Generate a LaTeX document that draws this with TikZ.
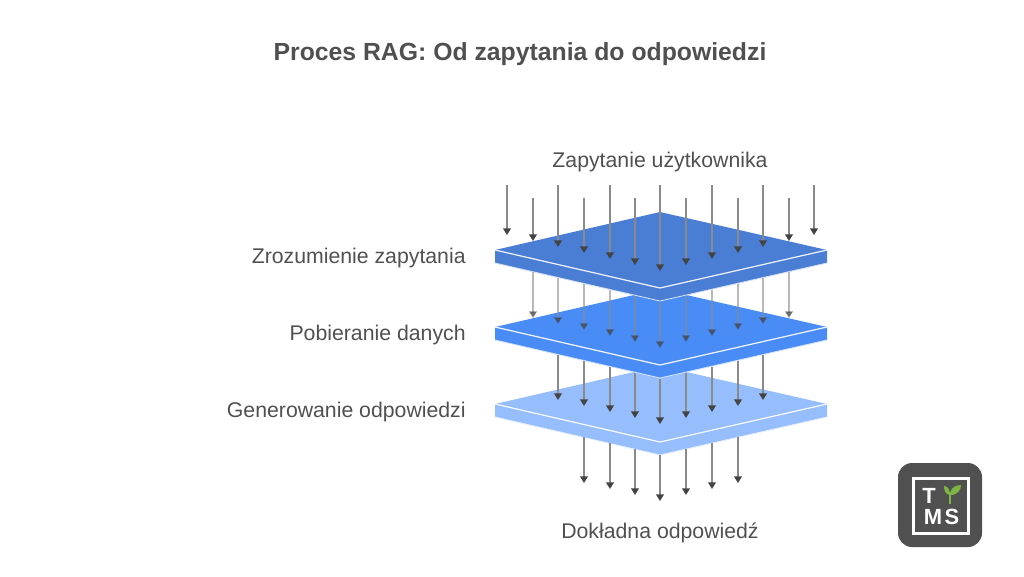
\documentclass[tikz,border=0pt]{standalone}
\usepackage{fontspec}
\setmainfont{Liberation Sans}
\usetikzlibrary{arrows.meta}

\definecolor{textgray}{HTML}{505050}
\definecolor{shaftgray}{HTML}{8A8A8A}
\definecolor{headgray}{HTML}{444444}
\definecolor{planeone}{HTML}{4A7DD4}
\definecolor{planetwo}{HTML}{4A8CF5}
\definecolor{planethree}{HTML}{96BDFC}
\definecolor{sprout}{HTML}{7DB544}

\tikzset{
  flow/.style={shaftgray, line width=0.95pt, -{Triangle[width=4.4pt, length=3.8pt, color=headgray]}},
  flowfaint/.style={flow, opacity=0.6},
  label/.style={text=textgray, font=\fontsize{12.1}{14}\selectfont, anchor=base, inner sep=0pt},
  logotext/.style={text=white, font=\fontsize{12.5}{14}\bfseries\selectfont, anchor=base, inner sep=0pt}
}

% one plate, #1 = y of the back corner
\newcommand{\plate}[2]{
  \fill[#2] (495, #1+38) -- (660, #1) -- (827, #1+38) -- (827, #1+51) -- (660, #1+89) -- (495, #1+51) -- cycle;
  \draw[white!75!#2, line width=0.5pt] (495, #1+51) -- (660, #1+89) -- (827, #1+51);
  \draw[white!90!#2, line width=0.7pt] (495, #1+38) -- (660, #1+76) -- (827, #1+38);
}

\begin{document}
\begin{tikzpicture}[x=0.02cm, y=-0.02cm]

\useasboundingbox (0, 0) rectangle (1024, 576);

\node[label, font=\fontsize{14.1}{17}\bfseries\selectfont] (title) at (520, 60) {Proces RAG: Od zapytania do odpowiedzi};

%Plates
\plate{366}{planethree}
\plate{289}{planetwo}
\plate{212}{planeone}

%Labels
\node[label] (query) at (660, 167) {Zapytanie użytkownika};
\node[label, anchor=base east] (understand) at (466, 263) {Zrozumienie zapytania};
\node[label, anchor=base east] (fetch) at (466, 340) {Pobieranie danych};
\node[label, anchor=base east] (generate) at (466, 417) {Generowanie odpowiedzi};
\node[label] (answer) at (660, 538) {Dokładna odpowiedź};

%Arrows into the first plate
\foreach \x/\a/\b [count=\i] in {507/185/235, 533/198/241, 558/185/247, 584/198/253, 610/185/259, 635/198/265, 660/185/271, 686/198/265, 712/185/259, 738/198/253, 763/185/247, 789/198/241, 814/185/235} {
  \coordinate (ina\i) at (\x, \a);
  \coordinate (inb\i) at (\x, \b);
  \draw[flow] (ina\i) -- (inb\i);
}

%Arrows into the second plate
\foreach \x/\a/\b [count=\i] in {533/272/318, 558/278/324, 584/284/330, 610/290/336, 635/296/342, 660/302/348, 686/296/342, 712/290/336, 738/284/330, 763/278/324, 789/272/318} {
  \coordinate (mida\i) at (\x, \a);
  \coordinate (midb\i) at (\x, \b);
  \draw[flowfaint] (mida\i) -- (midb\i);
}

%Arrows into the third plate
\foreach \x/\a/\b [count=\i] in {558/355/400, 584/361/406, 610/367/412, 635/373/418, 660/379/424, 686/373/418, 712/367/412, 738/361/406, 763/355/400} {
  \coordinate (lowa\i) at (\x, \a);
  \coordinate (lowb\i) at (\x, \b);
  \draw[flow] (lowa\i) -- (lowb\i);
}

%Arrows out of the third plate
\foreach \x/\a/\b [count=\i] in {584/437/483, 610/443/489, 635/449/495, 660/455/501, 686/449/495, 712/443/489, 738/437/483} {
  \coordinate (outa\i) at (\x, \a);
  \coordinate (outb\i) at (\x, \b);
  \draw[flow] (outa\i) -- (outb\i);
}

%Logo
\fill[textgray, rounded corners=8pt] (898, 463) rectangle (982, 547);
\draw[white, line width=1.7pt] (913, 478) rectangle (968, 533);
\node[logotext] (logot) at (929, 503) {T};
\node[logotext] (logom) at (933, 524) {M};
\node[logotext] (logos) at (952, 524) {S};
\draw[sprout, line width=1.6pt] (950, 504) -- (950, 492);
\fill[sprout] (950, 495) .. controls (945, 495) and (944, 489) .. (944, 486) .. controls (948, 486) and (950, 490) .. (950, 495);
\fill[sprout] (950, 495) .. controls (958, 495) and (961, 490) .. (961, 485) .. controls (954, 485) and (950, 489) .. (950, 495);

\end{tikzpicture}
\end{document}
